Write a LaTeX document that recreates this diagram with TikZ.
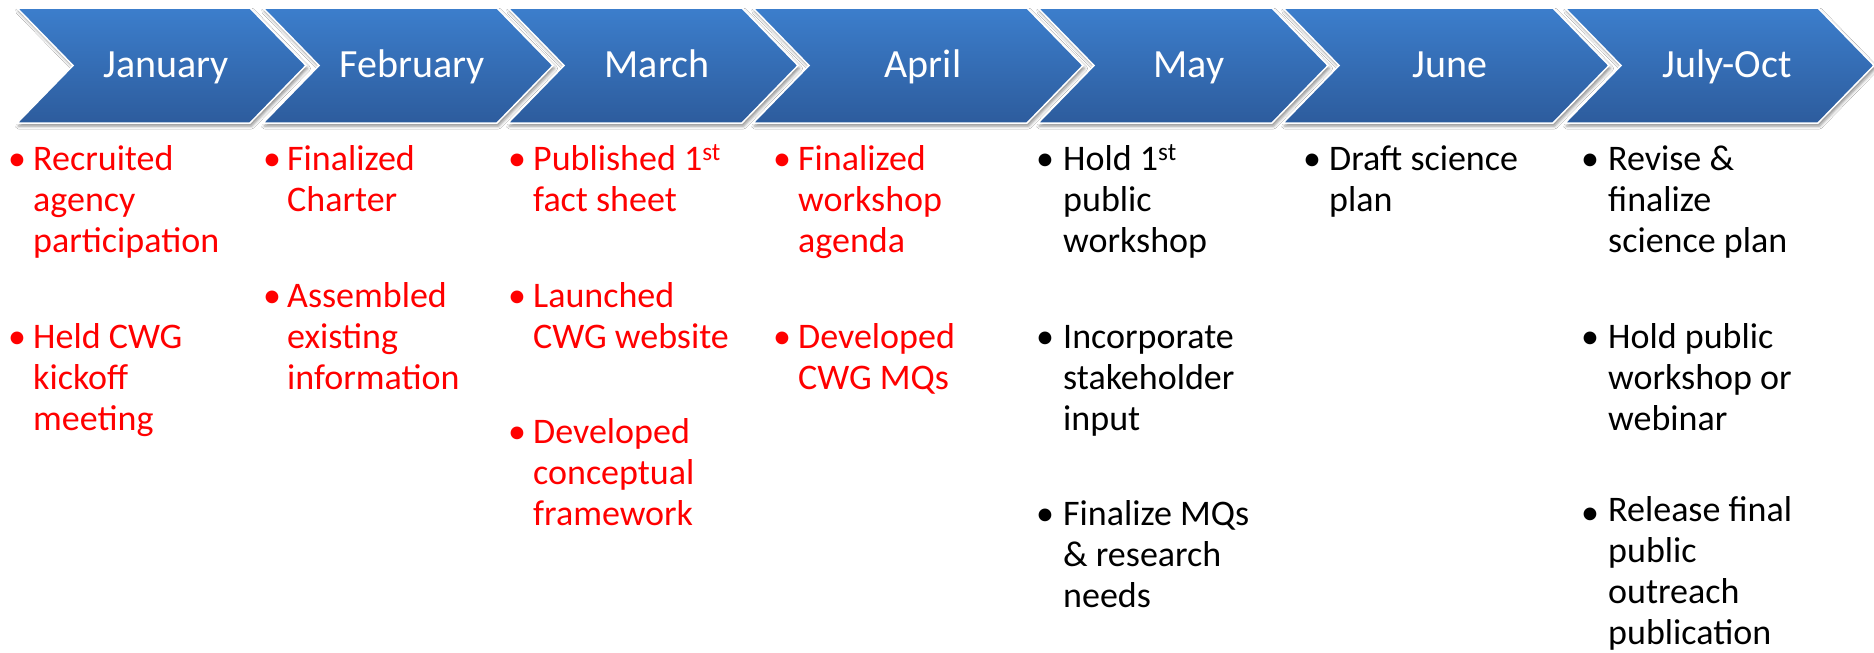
\documentclass[tikz,border=0pt]{standalone}
\usepackage{fontspec}
\setmainfont{Carlito}
\usetikzlibrary{shadows.blur}
\definecolor{chevtop}{RGB}{60,126,204}
\definecolor{chevbot}{RGB}{45,92,157}
\definecolor{itemred}{RGB}{255,0,0}
\tikzset{
  chev/.style={top color=chevtop, bottom color=chevbot, draw=white, line width=1.5pt, line join=miter,
    blur shadow={shadow xshift=1.5pt, shadow yshift=-3pt, shadow blur radius=3pt, shadow opacity=45}},
  month/.style={text=white, font=\fontsize{40}{48}\selectfont, inner sep=0pt, anchor=base},
  item/.style={inner sep=0pt, anchor=base west, align=left, font=\fontsize{36}{41}\selectfont},
  bul/.style={inner sep=0pt, anchor=base, font=\fontsize{36}{41}\selectfont},
  done/.style={text=itemred},
  todo/.style={text=black},
}
% the base anchor of a multi-line node is the baseline of its last line:
% items are placed at (x, first baseline + 41*(lines-1))
\newcommand{\mychev}[2]{\path[chev] (#1,8) -- (#2,8) -- ({#2+56},65.5) -- (#2,123) -- (#1,123) -- ({#1+56},65.5) -- cycle;}
\begin{document}
\begin{tikzpicture}[x=1pt,y=-1pt]
\useasboundingbox[fill=white] (0,0) rectangle (1874,653);
% chevrons
\mychev{17}{250}
\mychev{263}{497}
\mychev{508}{742}
\mychev{753}{1027}
\mychev{1038}{1272}
\mychev{1283}{1553}
\mychev{1565}{1818}
% month labels
\node[month] (hjan) at (166,77) {January};
\node[month] (hfeb) at (412,77) {February};
\node[month] (hmar) at (657,77) {March};
\node[month] (hapr) at (923,77) {April};
\node[month] (hmay) at (1189,77) {May};
\node[month] (hjun) at (1450,77) {June};
\node[month] (hjul) at (1727,77) {July-Oct};
% January
\node[bul,done] (bj1) at (17,170) {•};
\node[item,done] (j1) at (33,252) {Recruited\\agency\\participation};
\node[bul,done] (bj2) at (17,348) {•};
\node[item,done] (j2) at (33,430) {Held CWG\\kickoff\\meeting};
% February
\node[bul,done] (bf1) at (272,170) {•};
\node[item,done] (f1) at (287,211) {Finalized\\Charter};
\node[bul,done] (bf2) at (272,307) {•};
\node[item,done] (f2) at (287,389) {Assembled\\existing\\information};
% March
\node[bul,done] (bm1) at (517,170) {•};
\node[item,done] (m1) at (533,211) {Published 1\textsuperscript{st}\\fact sheet};
\node[bul,done] (bm2) at (517,307) {•};
\node[item,done] (m2) at (533,348) {Launched\\CWG website};
\node[bul,done] (bm3) at (517,443) {•};
\node[item,done] (m3) at (533,525) {Developed\\conceptual\\framework};
% April
\node[bul,done] (ba1) at (782,170) {•};
\node[item,done] (a1) at (798,252) {Finalized\\workshop\\agenda};
\node[bul,done] (ba2) at (782,348) {•};
\node[item,done] (a2) at (798,389) {Developed\\CWG MQs};
% May
\node[bul,todo] (by1) at (1045,170) {•};
\node[item,todo] (y1) at (1063,252) {Hold 1\textsuperscript{st}\\public\\workshop};
\node[bul,todo] (by2) at (1045,348) {•};
\node[item,todo] (y2) at (1063,430) {Incorporate\\stakeholder\\input};
\node[bul,todo] (by3) at (1045,525) {•};
\node[item,todo] (y3) at (1063,607) {Finalize MQs\\\& research\\needs};
% June
\node[bul,todo] (bu1) at (1312,170) {•};
\node[item,todo] (u1) at (1329,211) {Draft science\\plan};
% July-Oct
\node[bul,todo] (bl1) at (1590,170) {•};
\node[item,todo] (l1) at (1608,252) {Revise \&\\finalize\\science plan};
\node[bul,todo] (bl2) at (1590,348) {•};
\node[item,todo] (l2) at (1608,430) {Hold public\\workshop or\\webinar};
\node[bul,todo] (bl3) at (1590,524) {•};
\node[item,todo] (l3) at (1608,644) {Release final\\public\\outreach\\publication};
\end{tikzpicture}
\end{document}
